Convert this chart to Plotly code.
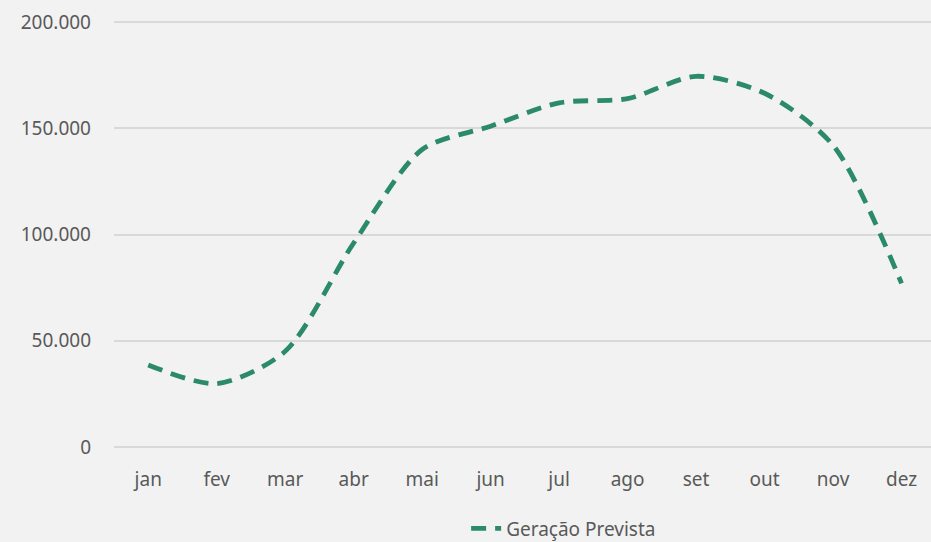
import plotly.graph_objects as go

months = ["jan", "fev", "mar", "abr", "mai", "jun", "jul", "ago", "set", "out", "nov", "dez"]
geracao_prevista = [38600, 29800, 45000, 96000, 140000, 151000, 162000, 164000, 174500, 166500, 142000, 77000]
y_ticks = [0, 50000, 100000, 150000, 200000]

fig = go.Figure()
fig.add_trace(go.Scatter(
    x=months, y=geracao_prevista, mode="lines", name="Geração Prevista",
    line=dict(color="#2A8A6A", width=4.8, dash="15px,9px", shape="spline", smoothing=0.8),
))

font_color = "#595959"
fig.update_layout(
    width=931, height=542,
    margin=dict(l=114, r=0, t=20, b=93, autoexpand=False),
    paper_bgcolor="#F2F2F2", plot_bgcolor="#F2F2F2",
    separators=",.",
    font=dict(family="Noto Sans, Open Sans, sans-serif", size=19, color=font_color),
    showlegend=True,
    legend=dict(orientation="h", x=0.431, xanchor="left", y=-0.141, yanchor="top",
                font=dict(size=19, color=font_color), bgcolor="rgba(0,0,0,0)"),
    xaxis=dict(type="category", range=[-0.5, 11.43], showgrid=False, zeroline=False,
               showline=False, ticks="", ticklabelstandoff=17),
    yaxis=dict(range=[-1000, 201000], tickvals=y_ticks, tickformat=",.0f",
               showgrid=True, gridcolor="#D9D9D9", gridwidth=1.6, zeroline=True,
               zerolinecolor="#D9D9D9", zerolinewidth=1.6,
               showline=False, ticks="", ticklabelstandoff=22),
)

fig.write_html("out.html", config={"displayModeBar": False},
               post_script="document.body.style.margin='0';document.body.style.background='#F2F2F2';")
